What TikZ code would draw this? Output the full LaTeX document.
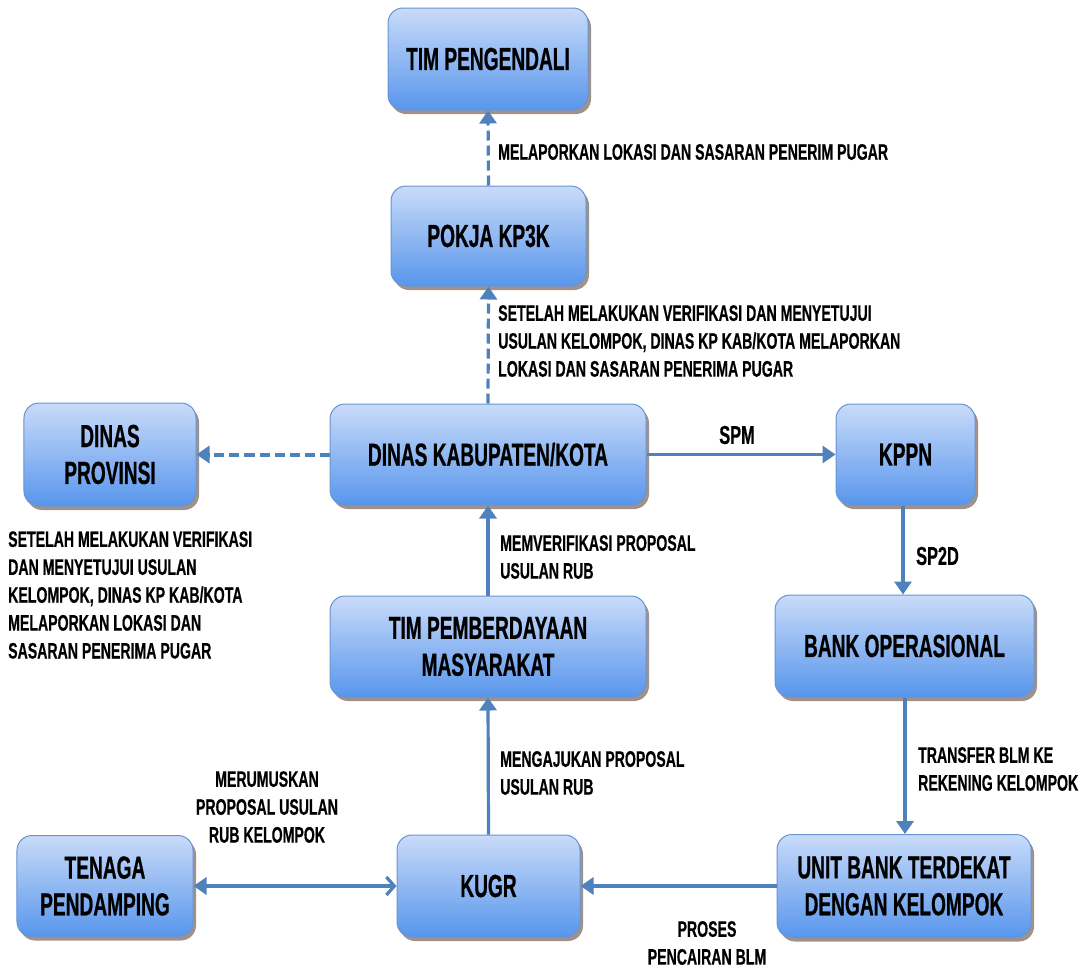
\documentclass[tikz,border=0pt]{standalone}
\usepackage{fontspec}
\setmainfont{Liberation Sans}[FakeStretch=0.63]
\newfontfamily\boxfnt{Liberation Sans}[FakeStretch=0.6, FakeBold=0.6]
\newfontfamily\lblfnt{Liberation Sans}[FakeStretch=0.63, FakeBold=0.5]
\usetikzlibrary{arrows.meta,shadows}
\definecolor{boxtop}{RGB}{201,219,249}
\definecolor{boxbot}{RGB}{88,150,236}
\definecolor{boxline}{RGB}{105,148,210}
\definecolor{shadowc}{RGB}{160,146,138}
\definecolor{arrowc}{RGB}{79,129,189}
\tikzset{
  procbox/.style={rounded corners=15bp, draw=boxline, line width=1bp,
    top color=boxtop, bottom color=boxbot, align=center, inner sep=2bp,
    font=\boxfnt\fontsize{32}{37}\selectfont\bfseries,
    drop shadow={shadow xshift=3bp, shadow yshift=-4bp, fill=shadowc, opacity=1}},
  lbl/.style={inner sep=0pt, font=\lblfnt\fontsize{22.5}{28}\selectfont\bfseries},
  biglbl/.style={inner sep=0pt, font=\lblfnt\fontsize{26}{30}\selectfont\bfseries},
  flow/.style={draw=arrowc, line width=3.2bp, -{Triangle[length=13bp,width=17bp]}},
  dflow/.style={flow, dash pattern=on 10bp off 5bp},
}
\begin{document}
\begin{tikzpicture}[x=1bp,y=-1bp]
\useasboundingbox[fill=white] (0,0) rectangle (1092,970);
% boxes
\node[procbox, minimum width=200bp, minimum height=102bp] (peng) at (488,59) {TIM PENGENDALI};
\node[procbox, minimum width=195bp, minimum height=100bp] (pokja) at (488.5,236) {POKJA KP3K};
\node[procbox, minimum width=316bp, minimum height=101bp] (dinkab) at (488,454.5) {DINAS KABUPATEN/KOTA};
\node[procbox, minimum width=172bp, minimum height=103bp] (dinprov) at (110,454.5) {DINAS\\PROVINSI};
\node[procbox, minimum width=139bp, minimum height=101bp] (kppn) at (905.5,454.5) {KPPN};
\node[procbox, minimum width=259bp, minimum height=102bp] (bank) at (904.5,646) {BANK OPERASIONAL};
\node[procbox, minimum width=316bp, minimum height=101bp] (tpm) at (488,646.5) {TIM PEMBERDAYAAN\\MASYARAKAT};
\node[procbox, minimum width=183bp, minimum height=102bp] (kugr) at (488.5,886) {KUGR};
\node[procbox, minimum width=176bp, minimum height=101bp] (tenaga) at (105,886) {TENAGA\\PENDAMPING};
\node[procbox, minimum width=254bp, minimum height=103bp] (unit) at (904,886) {UNIT BANK TERDEKAT\\DENGAN KELOMPOK};
% connectors
\draw[dflow] (pokja.north) -- (peng.south);
\draw[dflow] (dinkab.north) -- (pokja.south);
\draw[dflow, line width=4bp] (dinkab.west) -- (dinprov.east);
\draw[flow] (dinkab.east) -- (kppn.west);
\draw[flow] (kppn.south -| 903,0) -- (bank.north -| 903,0);
\draw[flow] (tpm.north) -- (dinkab.south);
\draw[flow] (kugr.north) -- (tpm.south);
\draw[flow] (bank.south -| 905,0) -- (unit.north -| 905,0);
\draw[flow] (unit.west) -- (kugr.east);
\draw[flow, {Straight Barb[length=8bp,width=18bp]}-{Triangle[length=13bp,width=17bp]}] (kugr.west) -- (tenaga.east);
% labels
\node[lbl, anchor=west] (l1) at (498,152) {MELAPORKAN LOKASI DAN SASARAN PENERIM PUGAR};
\node[lbl, anchor=west, align=left] (l2) at (498,341) {SETELAH MELAKUKAN VERIFIKASI DAN MENYETUJUI\\USULAN KELOMPOK, DINAS KP KAB/KOTA MELAPORKAN\\LOKASI DAN SASARAN PENERIMA PUGAR};
\node[biglbl] (l3) at (737,435) {SPM};
\node[biglbl, anchor=west] (l4) at (916,556) {SP2D};
\node[lbl, anchor=west, align=left] (l5) at (500,557) {MEMVERIFIKASI PROPOSAL\\USULAN RUB};
\node[lbl, anchor=west, align=left] (l6) at (500,773) {MENGAJUKAN PROPOSAL\\USULAN RUB};
\node[lbl, anchor=west, align=left] (l7) at (918,769) {TRANSFER BLM KE\\REKENING KELOMPOK};
\node[lbl, align=center] (l8) at (267,807) {MERUMUSKAN\\PROPOSAL USULAN\\RUB KELOMPOK};
\node[lbl, align=center] (l9) at (707,943) {PROSES\\PENCAIRAN BLM};
\node[lbl, anchor=west, align=left] (l10) at (8,595) {SETELAH MELAKUKAN VERIFIKASI\\DAN MENYETUJUI USULAN\\KELOMPOK, DINAS KP KAB/KOTA\\MELAPORKAN LOKASI DAN\\SASARAN PENERIMA PUGAR};
\end{tikzpicture}
\end{document}
